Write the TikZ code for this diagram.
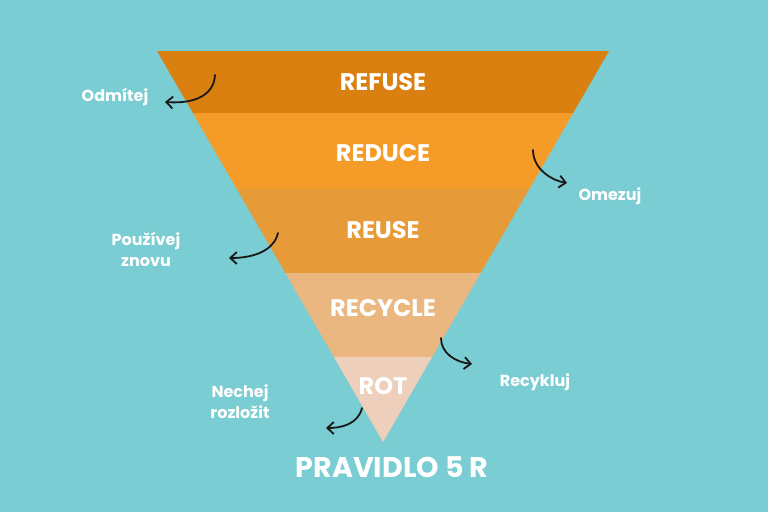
\documentclass[tikz,border=0pt]{standalone}
\usepackage{fontspec}
\setmainfont{Poppins}
\usetikzlibrary{calc,arrows.meta}
\definecolor{bg}{HTML}{7ACDD2}
\definecolor{cA}{HTML}{D98011}
\definecolor{cB}{HTML}{F49B28}
\definecolor{cC}{HTML}{E79A38}
\definecolor{cD}{HTML}{E9B77F}
\definecolor{cE}{HTML}{EDCFBC}
\tikzset{
  band/.style={text=white,font=\bfseries\fontsize{24}{27}\selectfont},
  lbl/.style={text=white,font=\bfseries\fontsize{16}{21}\selectfont,align=center},
  curv/.style={draw=black!90,line width=1.8pt,line cap=round,-{Straight Barb[length=6.5pt,width=12pt,line width=1.8pt]}}
}
\begin{document}
\begin{tikzpicture}[x=1pt,y=-1pt]
\fill[bg] (0,0) rectangle (768,512);
\useasboundingbox (0,0) rectangle (768,512);
\coordinate (A) at (157,51);
\coordinate (B) at (609,51);
\coordinate (C) at (383,442);
\coordinate (L1) at ($(A)!0.1586!(C)$); \coordinate (R1) at ($(B)!0.1586!(C)$);
\coordinate (L2) at ($(A)!0.3529!(C)$); \coordinate (R2) at ($(B)!0.3529!(C)$);
\coordinate (L3) at ($(A)!0.5678!(C)$); \coordinate (R3) at ($(B)!0.5678!(C)$);
\coordinate (L4) at ($(A)!0.7826!(C)$); \coordinate (R4) at ($(B)!0.7826!(C)$);
\fill[cA] (A) -- (B) -- (R1) -- (L1) -- cycle;
\fill[cB] (L1) -- (R1) -- (R2) -- (L2) -- cycle;
\fill[cC] (L2) -- (R2) -- (R3) -- (L3) -- cycle;
\fill[cD] (L3) -- (R3) -- (R4) -- (L4) -- cycle;
\fill[cE] (L4) -- (R4) -- (C) -- cycle;
\node[band] (refuse) at (383,82) {REFUSE};
\node[band] (reduce) at (383,153) {REDUCE};
\node[band] (reuse) at (383,230) {REUSE};
\node[band] (recycle) at (383,308) {RECYCLE};
\node[band] (rot) at (383,386) {ROT};
\node[lbl] (odm) at (115,97) {Odmítej};
\node[lbl] (ome) at (610,196) {Omezuj};
\node[lbl] (pou) at (146,249) {Používej\\znovu};
\node[lbl] (rec) at (535,382) {Recykluj};
\node[lbl] (nec) at (240,402) {Nechej\\rozložit};
\node[text=white,font=\bfseries\fontsize{28.5}{31}\selectfont] (title) at (392,467) {PRAVIDLO 5 R};
\coordinate (s1) at (215,75); \coordinate (e1) at (165,102);
\coordinate (s2) at (533,150); \coordinate (e2) at (567,183);
\coordinate (s3) at (278,233); \coordinate (e3) at (229,258);
\coordinate (s4) at (441,338); \coordinate (e4) at (472,364);
\coordinate (s5) at (362,408); \coordinate (e5) at (326,428);
\draw[curv] (s1) .. controls (214,95) and (195,104) .. (e1);
\draw[curv] (s2) .. controls (533,168) and (550,180) .. (e2);
\draw[curv] (s3) .. controls (274,250) and (255,258) .. (e3);
\draw[curv] (s4) .. controls (441,353) and (455,362) .. (e4);
\draw[curv] (s5) .. controls (358,424) and (342,428) .. (e5);
\end{tikzpicture}
\end{document}
